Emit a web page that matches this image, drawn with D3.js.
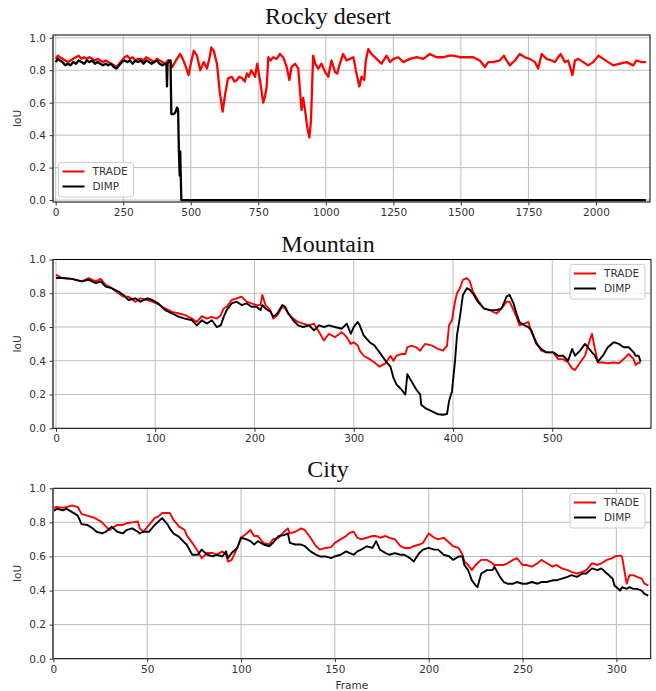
<!DOCTYPE html>
<html>
<head>
<meta charset="utf-8">
<script src="https://cdn.jsdelivr.net/npm/d3@7"></script>
<style>
  body { margin: 0; background: #fff; }
  svg { display: block; }
</style>
</head>
<body>
<svg id="chart" width="656" height="691"></svg>
<script>
// ---- Rocky desert
const rockyTradeFrames = [0, 8, 15, 25, 35, 45, 55, 65, 75, 85, 95, 105, 115, 125, 135, 145, 155, 165, 175, 185, 195, 205, 215, 225, 235, 245, 255, 265, 275, 285, 295, 305, 315, 325, 335, 345, 355, 365, 375, 385, 395, 405, 415, 424, 432, 445, 461, 470, 480, 492, 500, 511, 523, 535, 548, 560, 570, 576, 585, 597, 607, 618, 628, 638, 652, 662, 671, 680, 690, 700, 708, 715, 724, 731, 738, 746, 756, 768, 775, 781, 787, 795, 805, 818, 830, 842, 855, 865, 873, 886, 898, 904, 910, 916, 923, 931, 939, 945, 953, 961, 972, 984, 997, 1009, 1021, 1034, 1042, 1052, 1064, 1077, 1089, 1102, 1111, 1124, 1132, 1142, 1148, 1157, 1169, 1188, 1206, 1225, 1237, 1250, 1268, 1287, 1311, 1336, 1361, 1385, 1410, 1435, 1459, 1472, 1496, 1521, 1546, 1570, 1589, 1601, 1620, 1644, 1659, 1669, 1681, 1700, 1718, 1737, 1755, 1774, 1786, 1799, 1817, 1836, 1848, 1860, 1869, 1885, 1897, 1906, 1913, 1922, 1934, 1953, 1971, 1990, 2009, 2027, 2045, 2064, 2089, 2113, 2138, 2150, 2169, 2185];
const rockyTrade = [0.87, 0.89, 0.88, 0.87, 0.86, 0.85, 0.86, 0.87, 0.88, 0.89, 0.87, 0.88, 0.87, 0.88, 0.87, 0.86, 0.87, 0.86, 0.85, 0.86, 0.85, 0.84, 0.83, 0.82, 0.84, 0.86, 0.88, 0.89, 0.87, 0.88, 0.86, 0.87, 0.87, 0.86, 0.88, 0.87, 0.86, 0.85, 0.87, 0.86, 0.85, 0.84, 0.86, 0.85, 0.82, 0.86, 0.90, 0.87, 0.83, 0.77, 0.84, 0.92, 0.89, 0.80, 0.85, 0.81, 0.88, 0.94, 0.92, 0.84, 0.67, 0.545, 0.66, 0.75, 0.76, 0.73, 0.74, 0.76, 0.75, 0.73, 0.78, 0.76, 0.80, 0.78, 0.76, 0.84, 0.74, 0.60, 0.64, 0.70, 0.88, 0.86, 0.88, 0.87, 0.90, 0.88, 0.82, 0.74, 0.82, 0.84, 0.81, 0.68, 0.555, 0.63, 0.555, 0.45, 0.385, 0.49, 0.89, 0.84, 0.81, 0.84, 0.79, 0.76, 0.86, 0.79, 0.78, 0.84, 0.90, 0.86, 0.87, 0.88, 0.80, 0.70, 0.76, 0.74, 0.86, 0.93, 0.90, 0.87, 0.84, 0.89, 0.85, 0.87, 0.88, 0.85, 0.87, 0.88, 0.87, 0.90, 0.88, 0.88, 0.89, 0.89, 0.88, 0.88, 0.88, 0.86, 0.82, 0.85, 0.85, 0.86, 0.89, 0.86, 0.83, 0.86, 0.90, 0.88, 0.87, 0.85, 0.81, 0.90, 0.87, 0.86, 0.85, 0.88, 0.90, 0.85, 0.86, 0.81, 0.77, 0.86, 0.87, 0.85, 0.83, 0.85, 0.89, 0.87, 0.85, 0.83, 0.84, 0.85, 0.83, 0.86, 0.85, 0.85];
const rockyDimpFrames = [0, 8, 15, 25, 35, 45, 55, 65, 75, 85, 95, 105, 115, 125, 135, 145, 155, 165, 175, 185, 195, 205, 215, 225, 235, 245, 255, 265, 275, 285, 295, 305, 315, 325, 335, 345, 355, 365, 375, 385, 395, 405, 410, 412, 414, 420, 425, 428, 437, 443, 449, 453, 456, 459, 461, 463, 465, 2185];
const rockyDimp = [0.85, 0.87, 0.86, 0.85, 0.83, 0.84, 0.83, 0.85, 0.84, 0.86, 0.85, 0.84, 0.86, 0.85, 0.86, 0.84, 0.85, 0.84, 0.83, 0.84, 0.83, 0.84, 0.82, 0.81, 0.83, 0.85, 0.86, 0.85, 0.86, 0.84, 0.86, 0.85, 0.86, 0.84, 0.86, 0.85, 0.84, 0.85, 0.86, 0.84, 0.83, 0.84, 0.83, 0.70, 0.84, 0.86, 0.86, 0.53, 0.53, 0.54, 0.57, 0.56, 0.31, 0.15, 0.30, 0.15, 0, 0];

// ---- Mountain
const mountainFrames = [0, 6, 16, 26, 33, 40, 45, 50, 56, 63, 68, 73, 80, 85, 92, 97, 103, 110, 117, 124, 130, 137, 142, 147, 152, 157, 162, 166, 169, 172, 177, 182, 187, 192, 197, 202, 206, 208, 211, 216, 219, 223, 228, 231, 234, 239, 244, 249, 255, 260, 265, 270, 275, 281, 288, 293, 297, 300, 304, 306, 310, 316, 321, 326, 332, 337, 340, 343, 348, 352, 354, 358, 363, 367, 368, 372, 379, 385, 390, 394, 396, 399, 402, 404, 407, 410, 414, 417, 420, 425, 431, 437, 444, 449, 454, 457, 461, 464, 467, 472, 476, 479, 484, 489, 494, 501, 506, 511, 516, 520, 523, 528, 533, 536, 540, 543, 546, 551, 556, 562, 567, 572, 577, 582, 584, 587, 589];
const mountainTrade = [0.91, 0.89, 0.885, 0.87, 0.89, 0.87, 0.885, 0.85, 0.83, 0.80, 0.78, 0.78, 0.75, 0.77, 0.76, 0.75, 0.735, 0.71, 0.69, 0.68, 0.67, 0.65, 0.63, 0.665, 0.65, 0.66, 0.65, 0.67, 0.71, 0.72, 0.76, 0.77, 0.78, 0.75, 0.74, 0.73, 0.73, 0.79, 0.73, 0.70, 0.65, 0.67, 0.72, 0.71, 0.68, 0.65, 0.63, 0.62, 0.61, 0.62, 0.57, 0.52, 0.56, 0.54, 0.57, 0.54, 0.50, 0.51, 0.49, 0.46, 0.43, 0.41, 0.39, 0.365, 0.385, 0.43, 0.40, 0.43, 0.44, 0.44, 0.48, 0.49, 0.48, 0.46, 0.47, 0.50, 0.49, 0.47, 0.46, 0.49, 0.61, 0.64, 0.75, 0.80, 0.83, 0.88, 0.89, 0.87, 0.81, 0.76, 0.71, 0.70, 0.68, 0.71, 0.75, 0.75, 0.70, 0.66, 0.61, 0.62, 0.63, 0.57, 0.51, 0.46, 0.45, 0.45, 0.41, 0.41, 0.39, 0.355, 0.345, 0.39, 0.43, 0.49, 0.56, 0.47, 0.39, 0.39, 0.385, 0.39, 0.385, 0.41, 0.44, 0.41, 0.375, 0.39, 0.385];
const mountainDimp = [0.89, 0.89, 0.885, 0.87, 0.88, 0.86, 0.87, 0.84, 0.83, 0.81, 0.79, 0.76, 0.77, 0.75, 0.77, 0.76, 0.74, 0.70, 0.68, 0.66, 0.65, 0.64, 0.61, 0.64, 0.62, 0.64, 0.60, 0.61, 0.66, 0.70, 0.74, 0.75, 0.73, 0.74, 0.72, 0.72, 0.70, 0.73, 0.71, 0.69, 0.66, 0.68, 0.73, 0.72, 0.68, 0.64, 0.61, 0.60, 0.61, 0.58, 0.61, 0.60, 0.61, 0.60, 0.59, 0.62, 0.56, 0.60, 0.63, 0.61, 0.55, 0.51, 0.49, 0.45, 0.40, 0.365, 0.30, 0.26, 0.23, 0.20, 0.32, 0.28, 0.23, 0.20, 0.14, 0.12, 0.10, 0.083, 0.08, 0.085, 0.16, 0.22, 0.395, 0.55, 0.66, 0.79, 0.83, 0.82, 0.80, 0.75, 0.71, 0.70, 0.70, 0.71, 0.78, 0.79, 0.74, 0.68, 0.63, 0.61, 0.60, 0.58, 0.50, 0.47, 0.45, 0.45, 0.43, 0.43, 0.40, 0.47, 0.43, 0.46, 0.50, 0.48, 0.45, 0.43, 0.395, 0.43, 0.48, 0.51, 0.50, 0.48, 0.48, 0.45, 0.43, 0.43, 0.395];

// ---- City
const cityFrames = [0, 2, 5, 7, 10, 13, 15, 18, 21, 23, 26, 28, 30, 31, 34, 37, 39, 42, 45, 46, 48, 51, 54, 56, 58, 61, 62, 64, 67, 70, 71, 74, 77, 79, 82, 85, 87, 90, 92, 93, 95, 98, 100, 103, 105, 107, 109, 112, 115, 117, 120, 123, 125, 126, 129, 132, 134, 137, 140, 142, 145, 148, 150, 153, 156, 158, 160, 162, 164, 167, 170, 172, 174, 177, 179, 182, 185, 187, 190, 192, 195, 197, 200, 203, 205, 208, 211, 213, 216, 218, 219, 221, 223, 225, 226, 228, 231, 234, 235, 238, 240, 242, 245, 247, 250, 252, 255, 258, 260, 263, 266, 268, 271, 274, 276, 279, 282, 284, 287, 290, 292, 295, 298, 299, 302, 303, 305.5, 307, 309, 311, 313.5, 315, 317];
const cityTrade = [0.886, 0.89, 0.885, 0.89, 0.90, 0.89, 0.85, 0.84, 0.83, 0.82, 0.80, 0.775, 0.755, 0.765, 0.785, 0.785, 0.795, 0.80, 0.805, 0.765, 0.745, 0.785, 0.825, 0.835, 0.855, 0.855, 0.855, 0.815, 0.775, 0.755, 0.725, 0.68, 0.63, 0.59, 0.62, 0.62, 0.61, 0.63, 0.61, 0.57, 0.58, 0.65, 0.71, 0.735, 0.755, 0.72, 0.72, 0.68, 0.67, 0.70, 0.71, 0.745, 0.765, 0.735, 0.745, 0.765, 0.755, 0.71, 0.66, 0.64, 0.65, 0.655, 0.68, 0.70, 0.72, 0.74, 0.745, 0.71, 0.70, 0.71, 0.72, 0.72, 0.71, 0.72, 0.71, 0.70, 0.66, 0.65, 0.65, 0.66, 0.67, 0.68, 0.735, 0.71, 0.70, 0.71, 0.68, 0.66, 0.65, 0.61, 0.57, 0.55, 0.52, 0.55, 0.56, 0.58, 0.58, 0.56, 0.55, 0.55, 0.55, 0.56, 0.58, 0.59, 0.55, 0.55, 0.54, 0.56, 0.58, 0.56, 0.54, 0.55, 0.53, 0.52, 0.51, 0.50, 0.51, 0.52, 0.56, 0.55, 0.56, 0.58, 0.59, 0.60, 0.605, 0.60, 0.44, 0.49, 0.49, 0.48, 0.47, 0.44, 0.43];
const cityDimp = [0.867, 0.88, 0.87, 0.88, 0.86, 0.84, 0.79, 0.785, 0.765, 0.745, 0.735, 0.745, 0.765, 0.775, 0.745, 0.735, 0.755, 0.765, 0.745, 0.735, 0.745, 0.745, 0.785, 0.805, 0.825, 0.785, 0.765, 0.735, 0.715, 0.68, 0.67, 0.61, 0.61, 0.64, 0.61, 0.60, 0.61, 0.60, 0.63, 0.59, 0.62, 0.65, 0.71, 0.70, 0.69, 0.67, 0.69, 0.67, 0.66, 0.68, 0.72, 0.725, 0.735, 0.68, 0.67, 0.67, 0.66, 0.63, 0.61, 0.60, 0.60, 0.59, 0.60, 0.61, 0.63, 0.62, 0.61, 0.63, 0.64, 0.66, 0.65, 0.69, 0.64, 0.62, 0.61, 0.62, 0.61, 0.61, 0.59, 0.57, 0.62, 0.64, 0.65, 0.64, 0.64, 0.61, 0.60, 0.58, 0.60, 0.60, 0.55, 0.52, 0.46, 0.43, 0.42, 0.50, 0.52, 0.52, 0.54, 0.48, 0.45, 0.44, 0.44, 0.45, 0.44, 0.44, 0.45, 0.44, 0.45, 0.45, 0.46, 0.46, 0.47, 0.48, 0.49, 0.48, 0.50, 0.50, 0.53, 0.52, 0.53, 0.50, 0.47, 0.43, 0.40, 0.42, 0.41, 0.42, 0.41, 0.41, 0.40, 0.38, 0.37];

const yTickValues = [0, 0.2, 0.4, 0.6, 0.8, 1.0];
const rockyXTicks = [0, 250, 500, 750, 1000, 1250, 1500, 1750, 2000];
const mountainXTicks = [0, 100, 200, 300, 400, 500];
const cityXTicks = [0, 50, 100, 150, 200, 250, 300];
const seriesNames = ['TRADE', 'DIMP'];
const seriesColors = ['#ff0000', '#000000'];

const svg = d3.select('#chart');
const FONT = '"DejaVu Sans", sans-serif';

const panels = [
    {
        id: 'rocky', title: 'Rocky desert', titleY: 24,
        left: 53, right: 650, top: 35, bottom: 202,
        xDomain: [-10, 2200], yDomain: [-0.012, 1.017], xTicks: rockyXTicks,
        series: [
            rockyTradeFrames.map((f, i) => [f, rockyTrade[i]]),
            rockyDimpFrames.map((f, i) => [f, rockyDimp[i]])
        ],
        lineWidth: 2.3,
        legend: { x: 58.5, y: 162.5, w: 75, h: 34.5 },
        xLabel: null
    },
    {
        id: 'mountain', title: 'Mountain', titleY: 252,
        left: 53, right: 651, top: 259.5, bottom: 428.3,
        xDomain: [-3, 599.5], yDomain: [0, 1], xTicks: mountainXTicks,
        series: [
            mountainFrames.map((f, i) => [f, mountainTrade[i]]),
            mountainFrames.map((f, i) => [f, mountainDimp[i]])
        ],
        lineWidth: 1.9,
        legend: { x: 570, y: 264.5, w: 75, h: 34.5 },
        xLabel: null
    },
    {
        id: 'city', title: 'City', titleY: 477,
        left: 53, right: 650.7, top: 488.3, bottom: 658.7,
        xDomain: [-0.2, 318.3], yDomain: [0, 1], xTicks: cityXTicks,
        series: [
            cityFrames.map((f, i) => [f, cityTrade[i]]),
            cityFrames.map((f, i) => [f, cityDimp[i]])
        ],
        lineWidth: 1.9,
        legend: { x: 570, y: 493.5, w: 75, h: 34.5 },
        xLabel: 'Frame'
    }
];

svg.append('rect').attr('width', 656).attr('height', 691).attr('fill', '#fff');

panels.forEach(drawPanel);

function drawPanel(p) {
    const x = d3.scaleLinear().domain(p.xDomain).range([p.left, p.right]);
    const y = d3.scaleLinear().domain(p.yDomain).range([p.bottom, p.top]);

    const g = svg.append('g').attr('id', p.id);

    g.append('clipPath').attr('id', `clip-${p.id}`)
        .append('rect')
        .attr('x', p.left).attr('y', p.top)
        .attr('width', p.right - p.left).attr('height', p.bottom - p.top);

    // ---- grid
    g.selectAll('.gx').data(p.xTicks).join('line')
        .attr('class', 'gx')
        .attr('x1', d => x(d)).attr('x2', d => x(d))
        .attr('y1', p.top).attr('y2', p.bottom)
        .attr('stroke', '#bdbdbd').attr('stroke-width', 1);

    g.selectAll('.gy').data(yTickValues).join('line')
        .attr('class', 'gy')
        .attr('x1', p.left).attr('x2', p.right)
        .attr('y1', d => y(d)).attr('y2', d => y(d))
        .attr('stroke', '#bdbdbd').attr('stroke-width', 1);

    // ---- series
    const line = d3.line().x(d => x(d[0])).y(d => y(d[1]));
    g.append('g').attr('clip-path', `url(#clip-${p.id})`)
        .selectAll('path')
        .data(p.series)
        .join('path')
        .attr('d', line)
        .attr('fill', 'none')
        .attr('stroke', (d, i) => seriesColors[i])
        .attr('stroke-width', p.lineWidth)
        .attr('stroke-linejoin', 'round');

    // ---- frame
    g.append('rect')
        .attr('x', p.left).attr('y', p.top)
        .attr('width', p.right - p.left).attr('height', p.bottom - p.top)
        .attr('fill', 'none').attr('stroke', '#000').attr('stroke-width', 1);
    g.append('line')
        .attr('x1', p.left).attr('x2', p.left)
        .attr('y1', p.top).attr('y2', p.bottom)
        .attr('stroke', '#666').attr('stroke-width', 2);

    // ---- axes
    g.append('g')
        .attr('transform', `translate(0, ${p.bottom})`)
        .call(d3.axisBottom(x).tickValues(p.xTicks).tickSize(3.5).tickPadding(3).tickFormat(d3.format('d')))
        .call(a => a.select('.domain').remove())
        .call(a => a.selectAll('line').attr('stroke', '#333'))
        .call(a => a.selectAll('text').attr('font-family', FONT).attr('font-size', '10.5px').attr('fill', '#333'));

    g.append('g')
        .attr('transform', `translate(${p.left}, 0)`)
        .call(d3.axisLeft(y).tickValues(yTickValues).tickSize(3.5).tickPadding(3.5).tickFormat(d3.format('.1f')))
        .call(a => a.select('.domain').remove())
        .call(a => a.selectAll('line').attr('stroke', '#333'))
        .call(a => a.selectAll('text').attr('font-family', FONT).attr('font-size', '10.5px').attr('fill', '#333'));

    g.append('text')
        .attr('transform', `translate(21, ${(p.top + p.bottom) / 2}) rotate(-90)`)
        .attr('text-anchor', 'middle')
        .attr('font-family', FONT).attr('font-size', '10.5px').attr('fill', '#333')
        .text('IoU');

    if (p.xLabel) {
        g.append('text')
            .attr('x', (p.left + p.right) / 2).attr('y', 689)
            .attr('text-anchor', 'middle')
            .attr('font-family', FONT).attr('font-size', '10.5px').attr('fill', '#333')
            .text(p.xLabel);
    }

    // ---- title
    g.append('text')
        .attr('x', 328).attr('y', p.titleY)
        .attr('text-anchor', 'middle')
        .attr('font-family', '"Liberation Serif", "Times New Roman", serif')
        .attr('font-size', '24px').attr('fill', '#111')
        .text(p.title);

    // ---- legend
    const L = p.legend;
    const lg = g.append('g').attr('transform', `translate(${L.x}, ${L.y})`);
    lg.append('rect')
        .attr('width', L.w).attr('height', L.h).attr('rx', 2.5)
        .attr('fill', '#fff').attr('fill-opacity', 0.85)
        .attr('stroke', '#cccccc').attr('stroke-width', 1);
    const items = lg.selectAll('.item').data(seriesNames).join('g')
        .attr('class', 'item')
        .attr('transform', (d, i) => `translate(0, ${9 + i * 15})`);
    items.append('line')
        .attr('x1', 4).attr('x2', 26)
        .attr('stroke', (d, i) => seriesColors[i]).attr('stroke-width', 2);
    items.append('text')
        .attr('x', 34).attr('y', 3.8)
        .attr('font-family', FONT).attr('font-size', '10.5px').attr('fill', '#333')
        .text(d => d);
}
</script>
</body>
</html>
